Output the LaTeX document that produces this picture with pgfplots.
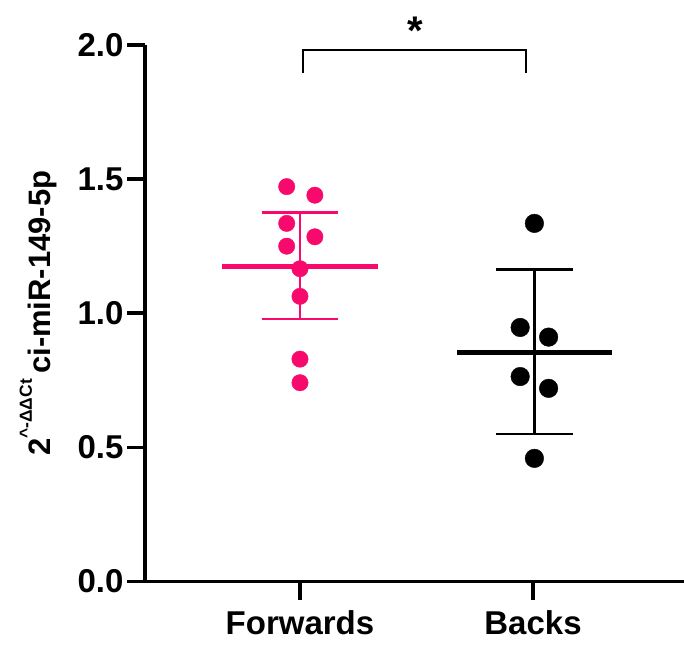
\documentclass[border=0pt]{standalone}
\usepackage{fontspec}
\setmainfont{Liberation Sans}
\usepackage{pgfplots}
\pgfplotsset{compat=1.18}
\definecolor{fwd}{RGB}{247,10,108}

\begin{document}
\begin{tikzpicture}
\begin{axis}[
  scale only axis,
  width=539pt, height=536.5pt,
  xmin=-0.665, xmax=1.648,
  ymin=0, ymax=2,
  axis x line=bottom, axis y line=left,
  x axis line style={-}, y axis line style={-},
  axis line style={line width=3.5pt, black},
  tick align=outside,
  major tick length=18pt,
  tick style={line width=3.5pt, black},
  xtick={0,1},
  xticklabels={Forwards,Backs},
  xticklabel style={yshift=-8pt},
  ytick={0,0.5,1,1.5,2},
  yticklabel style={/pgf/number format/.cd, fixed, fixed zerofill, precision=1, assume math mode=true},
  ticklabel style={font=\fontsize{33}{33}\selectfont\bfseries},
  ylabel={2\raisebox{0.6em}{\fontsize{17.5}{17.5}\selectfont\textasciicircum-ΔΔCt}\,ci-miR-149-5p},
  ylabel style={font=\fontsize{31}{31}\selectfont\bfseries, at={(axis description cs:-0.198,0.5)}, anchor=center},
  clip=false,
]
% Forwards: SD bars and mean
\addplot[fwd, line width=2.6pt] coordinates {(0,0.979) (0,1.375)};
\addplot[fwd, line width=2.6pt] coordinates {(-0.165,1.375) (0.165,1.375)};
\addplot[fwd, line width=2.6pt] coordinates {(-0.165,0.979) (0.165,0.979)};
\addplot[fwd, line width=5pt] coordinates {(-0.333,1.175) (0.333,1.175)};
% Backs: SD bars and mean
\addplot[black, line width=2.6pt] coordinates {(1.006,0.550) (1.006,1.163)};
\addplot[black, line width=2.6pt] coordinates {(0.841,1.163) (1.171,1.163)};
\addplot[black, line width=2.6pt] coordinates {(0.841,0.550) (1.171,0.550)};
\addplot[black, line width=5pt] coordinates {(0.673,0.855) (1.339,0.855)};
% individual samples
\addplot[only marks, mark=*, mark size=8.2pt, fwd, mark options={draw=fwd, fill=fwd}] coordinates {
  (-0.057,1.472) (0.064,1.440) (-0.057,1.335) (0.064,1.285) (-0.057,1.250)
  (0,1.166) (0,1.063) (0,0.829) (0,0.741)};
\addplot[only marks, mark=*, mark size=9.3pt, black, mark options={draw=black, fill=black}] coordinates {
  (1.006,1.335) (0.945,0.947) (1.067,0.911) (0.945,0.764) (1.067,0.720) (1.006,0.459)};
% significance bracket
\addplot[black, line width=2.3pt] coordinates {(0.013,1.896) (0.013,1.981) (0.970,1.981) (0.970,1.896)};
\node[anchor=north, inner sep=0pt, font=\fontsize{40}{40}\selectfont\bfseries] at (axis cs:0.494,2.105) {*};
\end{axis}
\pgfresetboundingbox
\path (-145pt,-62.5pt) rectangle (539pt,581.5pt);
\end{tikzpicture}
\end{document}
